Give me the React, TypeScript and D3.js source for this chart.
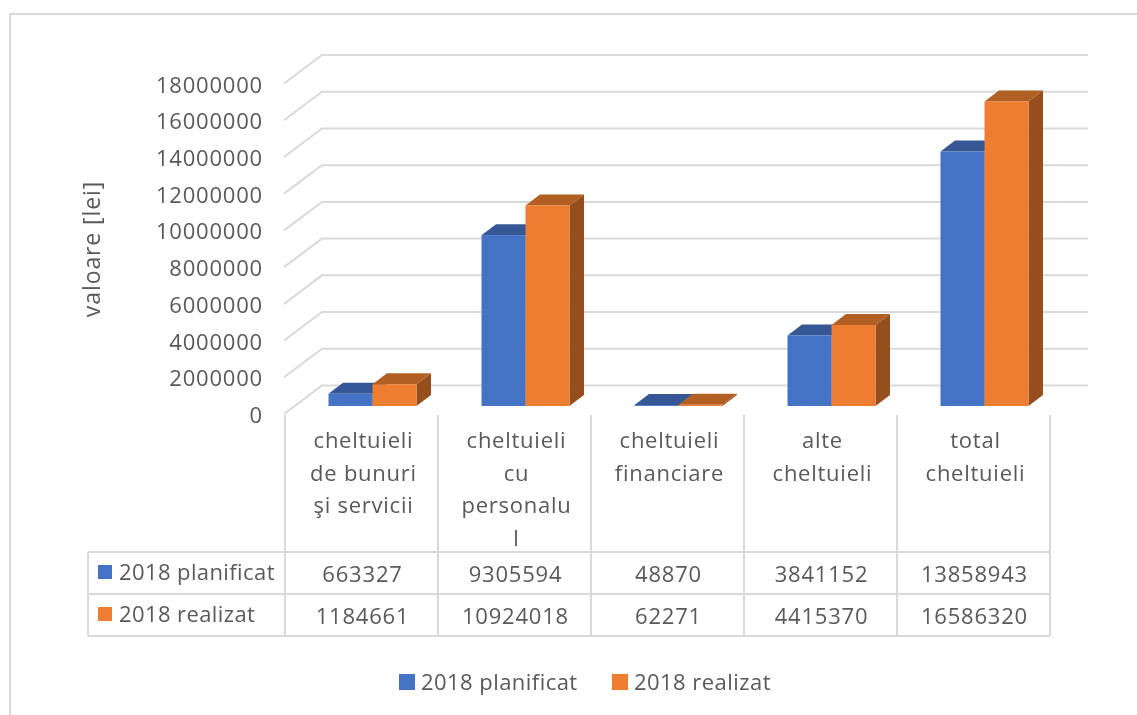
import React, { useEffect, useRef } from 'react';
import * as d3 from 'd3';

const categories = [
  ['cheltuieli', 'de bunuri', 'şi servicii'],
  ['cheltuieli', 'cu', 'personalu', 'l'],
  ['cheltuieli', 'financiare'],
  ['alte', 'cheltuieli'],
  ['total', 'cheltuieli'],
];
const seriesNames = ['2018 planificat', '2018 realizat'];
const planificat = [663327, 9305594, 48870, 3841152, 13858943];
const realizat = [1184661, 10924018, 62271, 4415370, 16586320];
const yTicks = [0, 2000000, 4000000, 6000000, 8000000, 10000000, 12000000, 14000000, 16000000, 18000000];

const WIDTH = 1137;
const HEIGHT = 715;
const FONT = '"Open Sans", sans-serif';
const TEXT = '#595959';
const GRID = '#d9d9d9';
const FRONT = ['#4472c4', '#ed7d31'];
const TOP = ['#355796', '#b25f24'];
const SIDE = ['#2f4f88', '#964f1c'];

const App = () => {
  const svgRef = useRef<SVGSVGElement>(null);

  useEffect(() => {
    const svg = d3.select(svgRef.current);
    svg.selectAll('*').remove();

    const values = [planificat, realizat];
    const ids = categories.map((_, i) => String(i));

    const x = d3.scaleBand().domain(ids).range([285, 1050]);
    const y = d3.scaleLinear().domain([0, 18000000]).range([414, 83.5]);
    const inner = d3.scaleBand().domain(seriesNames).range([43.5, 131.5]);

    // 3D offsets of the chart box and of the bars inside it
    const depth = { dx: 38, dy: -28.5 };
    const bar = { dx: 14.5, dy: -11, lift: -8 };

    const line = d3.line();

    // outer chart frame, only top and left survive the crop
    svg
      .append('path')
      .attr('d', line([[10, HEIGHT], [10, 14], [WIDTH, 14]]))
      .attr('fill', 'none')
      .attr('stroke', GRID)
      .attr('stroke-width', 2);

    // gridlines
    svg
      .append('g')
      .selectAll('path')
      .data(yTicks)
      .join('path')
      .attr('d', d =>
        line([
          [x.range()[0] - 1, y(d)],
          [x.range()[0] - 1 + depth.dx, y(d) + depth.dy],
          [x.range()[1] + depth.dx, y(d) + depth.dy],
        ])
      )
      .attr('fill', 'none')
      .attr('stroke', GRID)
      .attr('stroke-width', 2);

    // value axis
    const axis = svg
      .append('g')
      .attr('transform', 'translate(271,1.5)')
      .call(d3.axisLeft(y).tickValues(yTicks).tickSize(0).tickPadding(8).tickFormat(d3.format('d')));
    axis.select('.domain').remove();
    axis
      .selectAll('text')
      .attr('fill', TEXT)
      .attr('font-family', FONT)
      .attr('font-size', 22)
      .attr('letter-spacing', 0.8);

    svg
      .append('text')
      .attr('transform', 'translate(100,249) rotate(-90)')
      .attr('text-anchor', 'middle')
      .attr('fill', TEXT)
      .attr('font-family', FONT)
      .attr('font-size', 23)
      .attr('letter-spacing', 0.9)
      .text('valoare [lei]');

    // bars, back to front so the orange side covers the blue one
    const barsG = svg.append('g');
    ids.forEach((id, c) => {
      seriesNames.forEach((name, s) => {
        const v = values[s][c];
        const x0 = x(id) + inner(name);
        const x1 = x0 + inner.bandwidth();
        const base = y(0) + bar.lift;
        const top = y(v) + bar.lift;
        const g = barsG.append('g');
        g.append('path')
          .attr('d', line([[x1, top], [x1 + bar.dx, top + bar.dy], [x1 + bar.dx, base + bar.dy], [x1, base]]) + 'Z')
          .attr('fill', SIDE[s]);
        g.append('path')
          .attr('d', line([[x0, top], [x0 + bar.dx, top + bar.dy], [x1 + bar.dx, top + bar.dy], [x1, top]]) + 'Z')
          .attr('fill', TOP[s]);
        g.append('rect')
          .attr('x', x0)
          .attr('y', top)
          .attr('width', inner.bandwidth())
          .attr('height', base - top)
          .attr('fill', FRONT[s]);
      });
    });

    // data table
    const tableLeft = 88;
    const rows = d3.scaleBand().domain(seriesNames).range([552, 636]);
    const table = svg.append('g');

    const tableLines = [
      ...seriesNames.map(n => [[tableLeft, rows(n)], [x.range()[1], rows(n)]]),
      [[tableLeft, rows.range()[1]], [x.range()[1], rows.range()[1]]],
      [[tableLeft, rows.range()[0]], [tableLeft, rows.range()[1]]],
      ...[...ids.map(id => x(id)), x.range()[1]].map(px => [[px, y(0) + 1], [px, rows.range()[1]]]),
    ];
    table
      .selectAll('path')
      .data(tableLines)
      .join('path')
      .attr('d', d => line(d))
      .attr('stroke', GRID)
      .attr('stroke-width', 2)
      .attr('fill', 'none');

    const catText = table
      .selectAll('text.cat')
      .data(categories)
      .join('text')
      .attr('class', 'cat')
      .attr('text-anchor', 'middle')
      .attr('fill', TEXT)
      .attr('font-family', FONT)
      .attr('font-size', 22)
      .attr('letter-spacing', 0.75);
    catText
      .selectAll('tspan')
      .data((d, i) => d.map((t, j) => ({ t, j, i })))
      .join('tspan')
      .attr('x', d => x(ids[d.i]) + x.bandwidth() / 2 + 2)
      .attr('y', d => 448 + d.j * 32.5)
      .text(d => d.t);

    seriesNames.forEach((name, s) => {
      const mid = rows(name) + rows.bandwidth() / 2;
      table
        .append('rect')
        .attr('x', 98)
        .attr('y', mid - 8)
        .attr('width', 14)
        .attr('height', 14)
        .attr('fill', FRONT[s]);
      table
        .append('text')
        .attr('x', 119)
        .attr('y', mid + 7)
        .attr('fill', TEXT)
        .attr('font-family', FONT)
        .attr('font-size', 22)
        .attr('letter-spacing', 0.4)
        .text(name);
      ids.forEach((id, c) => {
        table
          .append('text')
          .attr('x', x(id) + x.bandwidth() / 2 + 1)
          .attr('y', mid + 9)
          .attr('text-anchor', 'middle')
          .attr('fill', TEXT)
          .attr('font-family', FONT)
          .attr('font-size', 22)
          .attr('letter-spacing', 0.8)
          .text(values[s][c]);
      });
    });

    // legend
    const legendX = d3.scaleOrdinal<string, number>().domain(seriesNames).range([399, 612]);
    seriesNames.forEach((name, s) => {
      svg
        .append('rect')
        .attr('x', legendX(name))
        .attr('y', 674)
        .attr('width', 16)
        .attr('height', 16)
        .attr('fill', FRONT[s]);
      svg
        .append('text')
        .attr('x', legendX(name) + 22)
        .attr('y', 690)
        .attr('fill', TEXT)
        .attr('font-family', FONT)
        .attr('font-size', 22)
        .attr('letter-spacing', 0.45)
        .text(name);
    });
  }, []);

  return (
    <svg
      ref={svgRef}
      width={WIDTH}
      height={HEIGHT}
      style={{ position: 'absolute', left: 0, top: 0, background: '#fff', filter: 'blur(0.4px)' }}
    ></svg>
  );
};

export default App;
